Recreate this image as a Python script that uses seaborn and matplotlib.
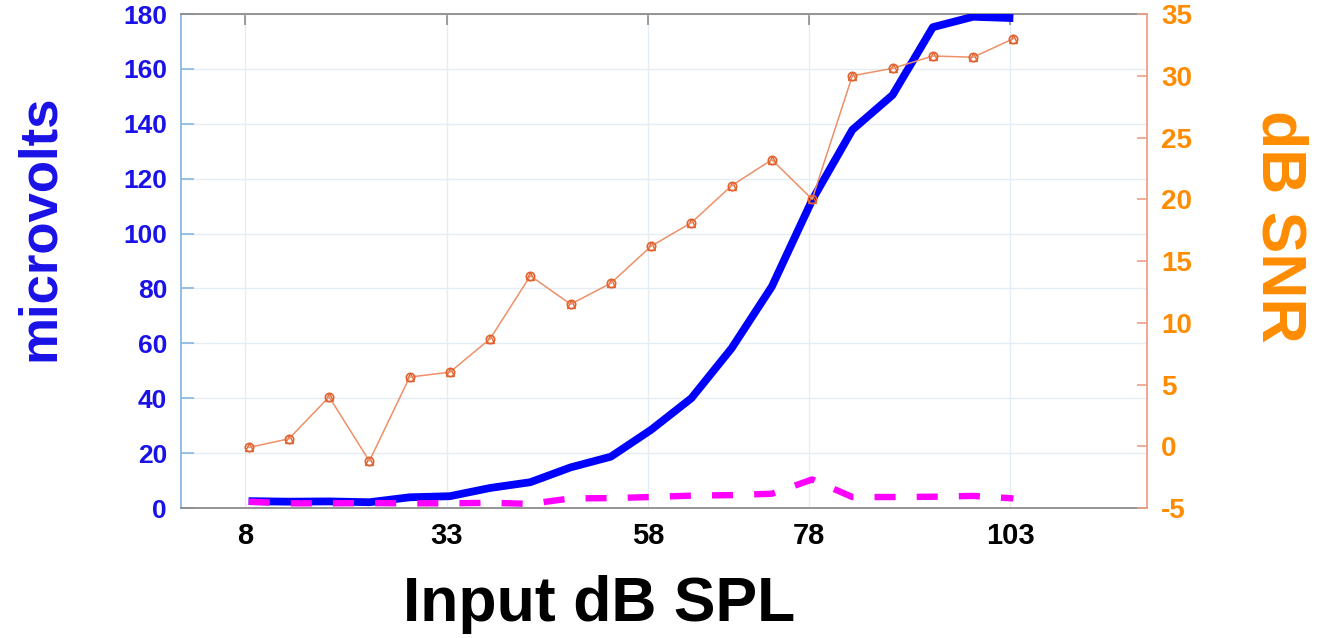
import matplotlib
matplotlib.use("Agg")
import matplotlib.pyplot as plt
import seaborn as sns
import pandas as pd

# ---- data ----
input_db = [8.4, 13.4, 18.4, 23.4, 28.4, 33.4, 38.4, 43.4, 48.4, 53.4,
            58.4, 63.4, 68.4, 73.4, 78.4, 83.4, 88.4, 93.4, 98.4, 103.4]
microvolts = [2.5, 2.3, 2.4, 2.1, 3.9, 4.3, 7.3, 9.4, 14.8, 18.7,
              28.5, 40.0, 58.2, 80.7, 112.2, 137.8, 150.5, 175.2, 179.0, 178.5]
noise_uv = [2.3, 1.7, 1.7, 1.8, 1.7, 1.7, 1.9, 1.5, 3.5, 3.6,
            4.0, 4.5, 4.7, 5.2, 10.4, 4.0, 4.0, 4.1, 4.4, 3.5]
snr_db = [-0.1, 0.6, 4.0, -1.2, 5.6, 6.0, 8.7, 13.8, 11.5, 13.2,
          16.2, 18.1, 21.1, 23.2, 20.0, 30.0, 30.6, 31.6, 31.5, 33.0]
x_ticks = [8, 33, 58, 78, 103]
left_ticks = [0, 20, 40, 60, 80, 100, 120, 140, 160, 180]
right_ticks = [-5, 0, 5, 10, 15, 20, 25, 30, 35]

df = pd.DataFrame({"db": input_db, "uv": microvolts, "noise": noise_uv, "snr": snr_db})

sns.set_style("white")
plt.rcParams["font.family"] = ["Liberation Sans", "DejaVu Sans"]
plt.rcParams["font.weight"] = "bold"

BLUE_TXT = "#1A12E6"
ORANGE_TXT = "#FF8C00"

fig = plt.figure(figsize=(13.19, 6.38), dpi=100)
ax = fig.add_axes([181 / 1319, 1 - 508 / 638, (1147 - 181) / 1319, (508 - 14) / 638])

sns.lineplot(data=df, x="db", y="uv", ax=ax, color="#0000FF", lw=5.6,
             solid_capstyle="butt", zorder=3)
sns.lineplot(data=df, x="db", y="noise", ax=ax, color="#FF00FF", lw=4.6,
             dashes=False, zorder=4)
ax.lines[-1].set_dashes((3.3, 3.3))
ax.lines[-1].set_dash_capstyle("butt")

ax.set_xlim(0, 120)
ax.set_ylim(0, 180)
ax.set_xticks(x_ticks)
ax.set_xticklabels([str(t) for t in x_ticks])
ax.set_yticks(left_ticks)
ax.set_yticklabels([str(t) for t in left_ticks])
ax.grid(True, color="#E4ECF4", lw=1.0)
ax.set_axisbelow(True)
ax.set_xlabel("")
ax.set_ylabel("")

ax.tick_params(axis="x", direction="in", length=8, width=1.2, color="#8C8C8C",
               labelsize=21, labelcolor="black", pad=10, top=True)
ax.tick_params(axis="y", direction="in", length=9, width=1.2, color="#88B6E0",
               labelsize=19, labelcolor=BLUE_TXT, pad=10)
for lab in ax.get_xticklabels() + ax.get_yticklabels():
    lab.set_fontweight("bold")

ax.spines["left"].set_color("#88B6E0")
ax.spines["top"].set_color("#8C8C8C")
ax.spines["bottom"].set_color("#8C8C8C")
ax.spines["right"].set_visible(False)
for s in ["left", "top", "bottom"]:
    ax.spines[s].set_linewidth(1.3)

ax2 = ax.twinx()
sns.lineplot(data=df, x="db", y="snr", ax=ax2, color="#EE9068", lw=1.1,
             marker="o", markersize=6, markerfacecolor="none",
             markeredgecolor="#E0622E", markeredgewidth=1.2, zorder=5)
ax2.plot(df["db"], df["snr"], ls="none", marker="^", markersize=6,
         markerfacecolor="none", markeredgecolor="#E0622E", markeredgewidth=1.0)
ax2.set_ylim(-5, 35)
ax2.set_yticks(right_ticks)
ax2.set_yticklabels([str(t) for t in right_ticks])
ax2.set_ylabel("")
ax2.tick_params(axis="y", direction="in", length=7, width=1.2, color="#F0A088",
                labelsize=20, labelcolor=ORANGE_TXT, pad=10)
for lab in ax2.get_yticklabels():
    lab.set_fontweight("bold")
for s in ["left", "top", "bottom"]:
    ax2.spines[s].set_visible(False)
ax2.spines["right"].set_color("#F0A088")
ax2.spines["right"].set_linewidth(1.3)

fig.text(599 / 1319, 1 - 605 / 638, "Input dB SPL", ha="center", va="center",
         fontsize=45, fontweight="bold", color="black")
fig.text(40 / 1319, 1 - 228 / 638, "microvolts", ha="center", va="center",
         rotation=90, fontsize=38, fontweight="bold", color=BLUE_TXT)
fig.text(1279 / 1319, 1 - 226 / 638, "dB SNR", ha="center", va="center",
         rotation=270, fontsize=45, fontweight="bold", color=ORANGE_TXT)

fig.savefig("out.png", dpi=100)
